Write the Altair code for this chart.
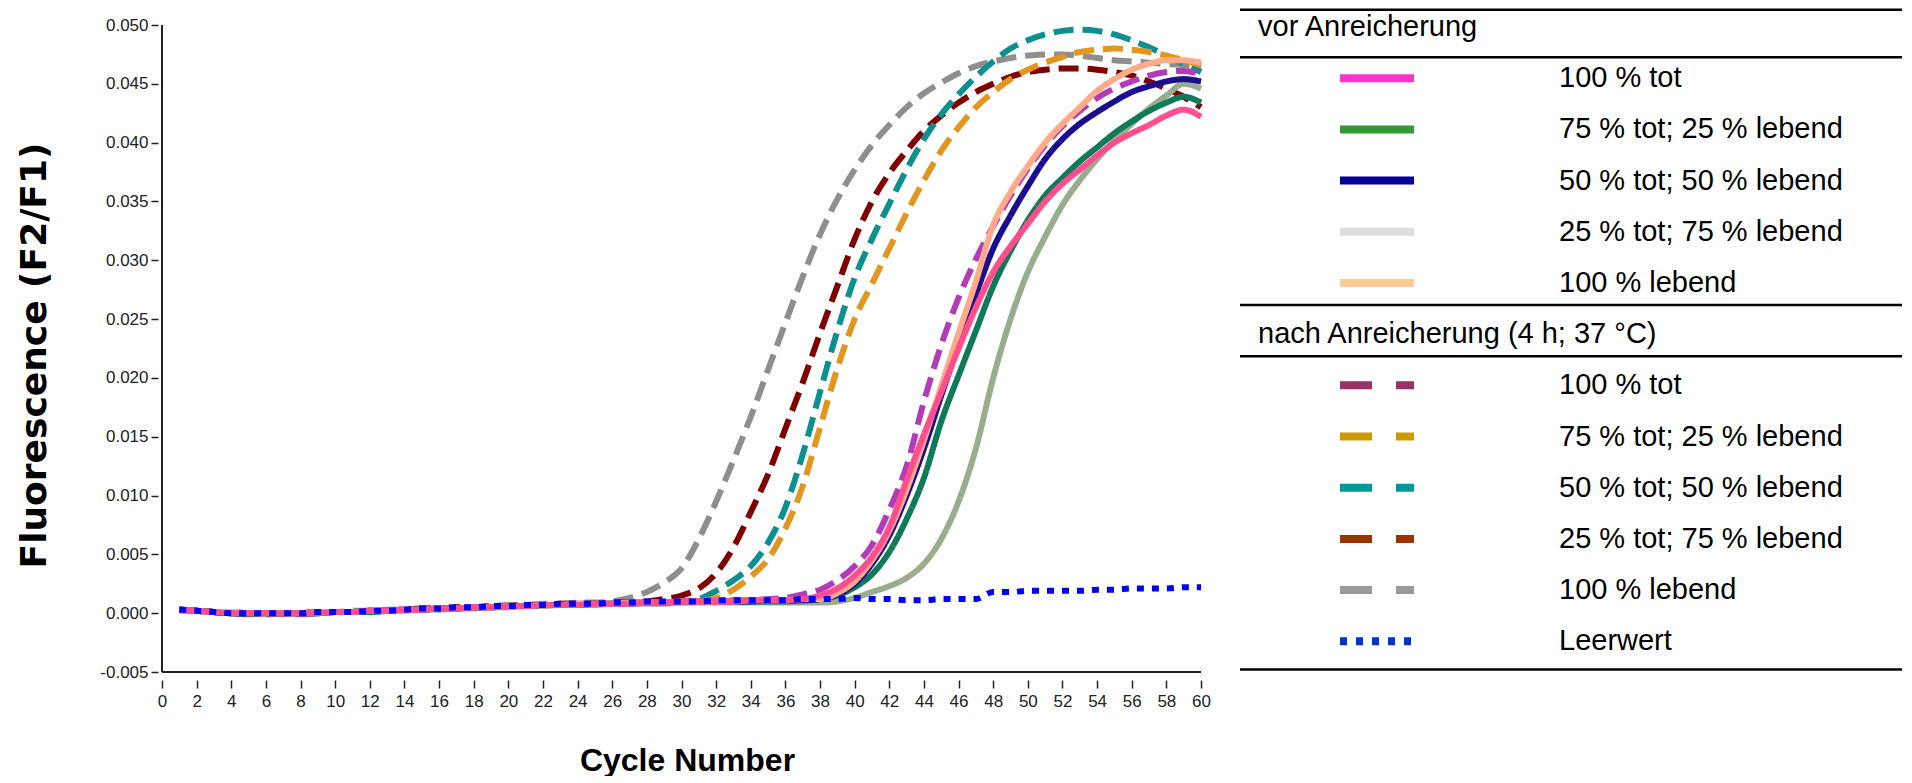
import altair as alt
import pandas as pd

# ---------------- data ----------------
cycles = list(range(1, 61))

# nach Anreicherung (dashed)
nach_100_lebend = [0.0003, 0.0002, 0.0001, 0.0000, 0.0000, 0.0000, 0.0000, 0.0000, 0.0001, 0.0001,
                   0.0002, 0.0002, 0.0003, 0.0003, 0.0004, 0.0004, 0.0005, 0.0005, 0.0006, 0.0007,
                   0.0007, 0.0008, 0.0008, 0.0009, 0.0009, 0.0010, 0.0013, 0.0018, 0.0026, 0.0038,
                   0.0063, 0.0095, 0.0130, 0.0167, 0.0207, 0.0247, 0.0286, 0.0322, 0.0352, 0.0377,
                   0.0398, 0.0415, 0.0430, 0.0442, 0.0451, 0.0459, 0.0465, 0.0469, 0.0472, 0.0474,
                   0.0475, 0.0475, 0.0474, 0.0472, 0.0470, 0.0469, 0.0468, 0.0467, 0.0466, 0.0464]
nach_25tot_75leb = [0.0003, 0.0002, 0.0001, 0.0000, 0.0000, -0.0001, 0.0000, 0.0000, 0.0001, 0.0001,
                    0.0001, 0.0002, 0.0002, 0.0003, 0.0004, 0.0004, 0.0005, 0.0005, 0.0006, 0.0006,
                    0.0007, 0.0007, 0.0008, 0.0008, 0.0008, 0.0009, 0.0009, 0.0010, 0.0012, 0.0015,
                    0.0021, 0.0034, 0.0056, 0.0086, 0.0118, 0.0157, 0.0196, 0.0238, 0.0278, 0.0318,
                    0.0350, 0.0374, 0.0393, 0.0410, 0.0423, 0.0434, 0.0443, 0.0450, 0.0456, 0.0460,
                    0.0462, 0.0463, 0.0463, 0.0462, 0.0460, 0.0457, 0.0452, 0.0446, 0.0439, 0.0430]
nach_50tot_50leb = [0.0003, 0.0002, 0.0001, 0.0001, 0.0000, 0.0000, 0.0000, 0.0000, 0.0000, 0.0001,
                    0.0001, 0.0002, 0.0002, 0.0003, 0.0003, 0.0004, 0.0004, 0.0005, 0.0005, 0.0006,
                    0.0006, 0.0007, 0.0007, 0.0008, 0.0008, 0.0008, 0.0009, 0.0009, 0.0009, 0.0010,
                    0.0012, 0.0019, 0.0028, 0.0040, 0.0060, 0.0090, 0.0135, 0.0188, 0.0240, 0.0285,
                    0.0318, 0.0348, 0.0377, 0.0403, 0.0424, 0.0441, 0.0456, 0.0469, 0.0480, 0.0487,
                    0.0492, 0.0495, 0.0496, 0.0495, 0.0492, 0.0487, 0.0481, 0.0474, 0.0467, 0.0460]
nach_75tot_25leb = [0.0003, 0.0002, 0.0001, 0.0000, 0.0000, 0.0000, -0.0001, 0.0000, 0.0000, 0.0001,
                    0.0001, 0.0001, 0.0002, 0.0003, 0.0003, 0.0004, 0.0004, 0.0005, 0.0005, 0.0006,
                    0.0006, 0.0007, 0.0007, 0.0007, 0.0008, 0.0008, 0.0008, 0.0009, 0.0009, 0.0009,
                    0.0010, 0.0013, 0.0020, 0.0031, 0.0046, 0.0072, 0.0108, 0.0158, 0.0208, 0.0250,
                    0.0280, 0.0310, 0.0340, 0.0368, 0.0393, 0.0413, 0.0430, 0.0443, 0.0454, 0.0462,
                    0.0468, 0.0473, 0.0477, 0.0479, 0.0480, 0.0479, 0.0477, 0.0474, 0.0470, 0.0466]
nach_100_tot = [0.0003, 0.0002, 0.0001, 0.0000, 0.0000, 0.0000, 0.0000, -0.0001, 0.0000, 0.0001,
                0.0001, 0.0002, 0.0002, 0.0003, 0.0003, 0.0004, 0.0004, 0.0005, 0.0005, 0.0006,
                0.0006, 0.0007, 0.0007, 0.0008, 0.0008, 0.0008, 0.0009, 0.0009, 0.0009, 0.0010,
                0.0010, 0.0010, 0.0011, 0.0011, 0.0012, 0.0013, 0.0016, 0.0020, 0.0028, 0.0040,
                0.0058, 0.0088, 0.0125, 0.0180, 0.0228, 0.0268, 0.0301, 0.0329, 0.0355, 0.0378,
                0.0398, 0.0414, 0.0427, 0.0438, 0.0446, 0.0452, 0.0457, 0.0460, 0.0461, 0.0458]

# vor Anreicherung (solid)
vor_25tot_75leb = [0.0002, 0.0002, 0.0001, 0.0000, 0.0000, 0.0000, 0.0000, 0.0000, 0.0000, 0.0001,
                   0.0001, 0.0001, 0.0002, 0.0002, 0.0003, 0.0003, 0.0004, 0.0004, 0.0005, 0.0005,
                   0.0006, 0.0006, 0.0007, 0.0007, 0.0007, 0.0008, 0.0008, 0.0008, 0.0008, 0.0009,
                   0.0009, 0.0009, 0.0009, 0.0009, 0.0009, 0.0009, 0.0009, 0.0009, 0.0010, 0.0013,
                   0.0018, 0.0023, 0.0030, 0.0042, 0.0063, 0.0095, 0.0140, 0.0200, 0.0250, 0.0290,
                   0.0320, 0.0347, 0.0368, 0.0386, 0.0402, 0.0416, 0.0429, 0.0440, 0.0450, 0.0446]
vor_75tot_25leb = [0.0003, 0.0002, 0.0001, 0.0000, -0.0001, 0.0000, 0.0000, 0.0000, 0.0000, 0.0001,
                   0.0001, 0.0001, 0.0002, 0.0003, 0.0003, 0.0004, 0.0004, 0.0005, 0.0005, 0.0006,
                   0.0006, 0.0007, 0.0007, 0.0007, 0.0008, 0.0008, 0.0008, 0.0009, 0.0009, 0.0010,
                   0.0010, 0.0010, 0.0010, 0.0010, 0.0010, 0.0010, 0.0011, 0.0012, 0.0015, 0.0022,
                   0.0033, 0.0052, 0.0080, 0.0115, 0.0163, 0.0202, 0.0240, 0.0278, 0.0308, 0.0334,
                   0.0355, 0.0370, 0.0384, 0.0396, 0.0408, 0.0418, 0.0427, 0.0434, 0.0439, 0.0434]
vor_50tot_50leb = [0.0003, 0.0002, 0.0001, 0.0000, 0.0000, 0.0000, 0.0000, 0.0000, 0.0001, 0.0001,
                   0.0001, 0.0002, 0.0002, 0.0003, 0.0003, 0.0004, 0.0004, 0.0005, 0.0005, 0.0006,
                   0.0006, 0.0007, 0.0007, 0.0008, 0.0008, 0.0008, 0.0009, 0.0009, 0.0009, 0.0010,
                   0.0010, 0.0010, 0.0010, 0.0010, 0.0011, 0.0011, 0.0011, 0.0012, 0.0016, 0.0025,
                   0.0042, 0.0066, 0.0100, 0.0140, 0.0185, 0.0229, 0.0271, 0.0310, 0.0338, 0.0363,
                   0.0386, 0.0403, 0.0416, 0.0426, 0.0435, 0.0443, 0.0448, 0.0452, 0.0454, 0.0452]
vor_100_lebend = [0.0003, 0.0002, 0.0001, 0.0001, 0.0000, 0.0000, 0.0000, 0.0000, 0.0001, 0.0001,
                  0.0001, 0.0002, 0.0002, 0.0003, 0.0003, 0.0004, 0.0004, 0.0005, 0.0005, 0.0006,
                  0.0006, 0.0007, 0.0007, 0.0008, 0.0008, 0.0008, 0.0009, 0.0009, 0.0009, 0.0010,
                  0.0010, 0.0010, 0.0010, 0.0011, 0.0011, 0.0011, 0.0012, 0.0012, 0.0017, 0.0027,
                  0.0045, 0.0070, 0.0105, 0.0147, 0.0193, 0.0238, 0.0282, 0.0330, 0.0358, 0.0380,
                  0.0400, 0.0416, 0.0430, 0.0444, 0.0454, 0.0462, 0.0467, 0.0470, 0.0470, 0.0468]
vor_100_tot = [0.0003, 0.0002, 0.0001, 0.0000, 0.0000, 0.0000, 0.0000, 0.0000, 0.0000, 0.0001,
               0.0001, 0.0002, 0.0002, 0.0003, 0.0003, 0.0004, 0.0004, 0.0005, 0.0005, 0.0006,
               0.0006, 0.0007, 0.0007, 0.0007, 0.0008, 0.0008, 0.0008, 0.0009, 0.0009, 0.0010,
               0.0010, 0.0010, 0.0010, 0.0011, 0.0011, 0.0011, 0.0012, 0.0015, 0.0021, 0.0032,
               0.0048, 0.0073, 0.0113, 0.0152, 0.0188, 0.0225, 0.0260, 0.0290, 0.0312, 0.0331,
               0.0350, 0.0365, 0.0377, 0.0389, 0.0400, 0.0408, 0.0415, 0.0423, 0.0428, 0.0422]

leerwert = [0.0003, 0.0002, 0.0001, 0.0000, 0.0000, 0.0000, 0.0000, 0.0000, 0.0001, 0.0001,
            0.0001, 0.0002, 0.0002, 0.0003, 0.0004, 0.0004, 0.0005, 0.0005, 0.0006, 0.0006,
            0.0007, 0.0007, 0.0008, 0.0008, 0.0008, 0.0009, 0.0009, 0.0010, 0.0010, 0.0010,
            0.0010, 0.0011, 0.0011, 0.0011, 0.0011, 0.0011, 0.0012, 0.0012, 0.0012, 0.0013,
            0.0012, 0.0012, 0.0011, 0.0011, 0.0012, 0.0012, 0.0012, 0.0018, 0.0018, 0.0019,
            0.0019, 0.0019, 0.0019, 0.0020, 0.0020, 0.0021, 0.0021, 0.0021, 0.0022, 0.0022]

# drawing order (first drawn = bottom)
plot_ids = ["nach 100 % lebend", "nach 25/75", "nach 50/50", "nach 75/25", "nach 100 % tot",
            "vor 25/75", "vor 75/25", "vor 50/50", "vor 100 % lebend", "vor 100 % tot", "Leerwert"]
plot_values = [nach_100_lebend, nach_25tot_75leb, nach_50tot_50leb, nach_75tot_25leb, nach_100_tot,
               vor_25tot_75leb, vor_75tot_25leb, vor_50tot_50leb, vor_100_lebend, vor_100_tot, leerwert]
plot_colors = ["#8e8e8e", "#800000", "#0b8f8f", "#e0961f", "#b23cb8",
               "#98ad8c", "#0e7a57", "#1a0d8f", "#ffab8a", "#ff4d8d", "#0000ff"]
DASH = [20, 9]
SOLID = [1, 0]
DOT = [7, 8]
plot_dashes = [DASH, DASH, DASH, DASH, DASH, SOLID, SOLID, SOLID, SOLID, SOLID, DOT]

x_ticks = list(range(0, 61, 2))
y_ticks = [-0.005, 0.0, 0.005, 0.010, 0.015, 0.020, 0.025, 0.030, 0.035, 0.040, 0.045, 0.050]
X_DOMAIN = [0, 60]
Y_DOMAIN = [-0.005, 0.050]

# legend content
header_vor = "vor Anreicherung"
header_nach = "nach Anreicherung (4 h; 37 °C)"
legend_labels_vor = ["100 % tot", "75 % tot; 25 % lebend", "50 % tot; 50 % lebend",
                     "25 % tot; 75 % lebend", "100 % lebend"]
legend_colors_vor = ["#ff33cc", "#339933", "#000099", "#dddddd", "#ffcc99"]
legend_labels_nach = ["100 % tot", "75 % tot; 25 % lebend", "50 % tot; 50 % lebend",
                      "25 % tot; 75 % lebend", "100 % lebend", "Leerwert"]
legend_colors_nach = ["#993366", "#cc9900", "#009999", "#993300", "#999999", "#0033cc"]
legend_styles_nach = ["dash", "dash", "dash", "dash", "dash", "dot"]

# ---------------- plot ----------------
rows = []
for sid, vals in zip(plot_ids, plot_values):
    for c, v in zip(cycles, vals):
        rows.append({"series": sid, "cycle": c, "value": v})
df = pd.DataFrame(rows)

W, H = 1039, 647
xs = alt.Scale(domain=X_DOMAIN, nice=False, zero=False)
ys = alt.Scale(domain=Y_DOMAIN, nice=False, zero=False)

x_axis = alt.Axis(values=x_ticks, title="Cycle Number", domain=False, grid=False,
                  offset=8, tickSize=8, tickWidth=1.5, tickColor="#222",
                  labelPadding=5, labelFontSize=17, labelFont="Liberation Sans",
                  labelColor="#222", labelFlush=False, labelOverlap=False,
                  titleFont="Liberation Sans", titleFontSize=32, titleFontWeight="bold",
                  titleColor="#000", titleX=525, titleY=80, titleBaseline="middle",
                  titleAlign="center")
y_axis = alt.Axis(values=y_ticks, title="Fluorescence (F2/F1)",
                  labelExpr="replace(format(datum.value, '.3f'), '\u2212', '-')",
                  domain=False, grid=False, offset=4, tickSize=7, tickWidth=1.5,
                  tickColor="#222", labelPadding=3, labelFontSize=17,
                  labelFont="Liberation Sans", labelColor="#222", labelFlush=False,
                  labelOverlap=False,
                  titleFont="DejaVu Sans", titleFontSize=36, titleFontWeight="bold",
                  titleColor="#000", titleX=-124, titleY=330, titleAngle=-90,
                  titleBaseline="middle", titleAlign="center")

lines = alt.Chart(df).mark_line(strokeWidth=6, interpolate="monotone", strokeCap="butt").encode(
    x=alt.X("cycle:Q", scale=xs, axis=x_axis),
    y=alt.Y("value:Q", scale=ys, axis=y_axis),
    color=alt.Color("series:N", scale=alt.Scale(domain=plot_ids, range=plot_colors), legend=None),
    strokeDash=alt.StrokeDash("series:N", scale=alt.Scale(domain=plot_ids, range=plot_dashes),
                              legend=None),
    order=alt.Order("cycle:Q"),
)

ax_df = pd.DataFrame({"x0": [X_DOMAIN[0]], "x1": [X_DOMAIN[1]],
                      "y0": [Y_DOMAIN[0]], "y1": [Y_DOMAIN[1]]})
x_axis_line = alt.Chart(ax_df).mark_rule(color="#222", strokeWidth=2).encode(
    x=alt.X("x0:Q", scale=xs, axis=x_axis), x2="x1:Q", y=alt.Y("y0:Q", scale=ys, axis=y_axis))
y_axis_line = alt.Chart(ax_df).mark_rule(color="#222", strokeWidth=2).encode(
    x=alt.X("x0:Q", scale=xs, axis=x_axis), y=alt.Y("y0:Q", scale=ys, axis=y_axis), y2="y1:Q")

plot = alt.layer(lines, x_axis_line, y_axis_line).properties(width=W, height=H)

# ---------------- legend ----------------
LW = 662
item_rows = []
for i, (lab, col) in enumerate(zip(legend_labels_vor, legend_colors_vor)):
    item_rows.append({"row": 1 + i, "label": lab, "color": col, "style": "solid"})
for i, (lab, col, st) in enumerate(zip(legend_labels_nach, legend_colors_nach, legend_styles_nach)):
    item_rows.append({"row": 7 + i, "label": lab, "color": col, "style": st})
items = pd.DataFrame(item_rows)
heads = pd.DataFrame({"row": [0, 6], "label": [header_vor, header_nach]})
seps = pd.DataFrame({"row": [-0.34, 0.59, 5.43, 6.43, 12.55]})

ly = alt.Scale(domain=[-0.04, 12.6], reverse=True, zero=False, nice=False)
Yrow = alt.Y("row:Q", scale=ly, axis=None)

sep_layer = alt.Chart(seps).mark_rule(color="#000", strokeWidth=2.5).encode(
    x=alt.value(0), x2=alt.value(LW), y=Yrow)
head_layer = alt.Chart(heads).mark_text(align="left", baseline="middle", fontSize=29,
                                        font="Liberation Sans", color="#000").encode(
    x=alt.value(18), y=Yrow, text="label:N")
text_layer = alt.Chart(items).mark_text(align="left", baseline="middle", fontSize=29,
                                        font="Liberation Sans", color="#000").encode(
    x=alt.value(319), y=Yrow, text="label:N")
sw_solid = alt.Chart(items).transform_filter(alt.datum.style == "solid").mark_rule(
    strokeWidth=8, strokeCap="butt").encode(
    x=alt.value(100), x2=alt.value(174), y=Yrow, color=alt.Color("color:N", scale=None))
sw_dash = alt.Chart(items).transform_filter(alt.datum.style == "dash").mark_rule(
    strokeWidth=8, strokeCap="butt", strokeDash=[32, 24]).encode(
    x=alt.value(100), x2=alt.value(174), y=Yrow, color=alt.Color("color:N", scale=None))
sw_dot = alt.Chart(items).transform_filter(alt.datum.style == "dot").mark_rule(
    strokeWidth=8, strokeCap="butt", strokeDash=[7, 9]).encode(
    x=alt.value(100), x2=alt.value(179), y=Yrow, color=alt.Color("color:N", scale=None))

legend = alt.layer(sep_layer, head_layer, text_layer, sw_solid, sw_dash, sw_dot).properties(
    width=LW, height=H)

chart = alt.hconcat(plot, legend, spacing=39, bounds="flush").properties(
    padding={"left": 8, "top": 0, "right": 0, "bottom": 0}, background="white"
).configure_view(stroke=None)

chart.save("out.html", embed_options={"renderer": "svg", "actions": False})
